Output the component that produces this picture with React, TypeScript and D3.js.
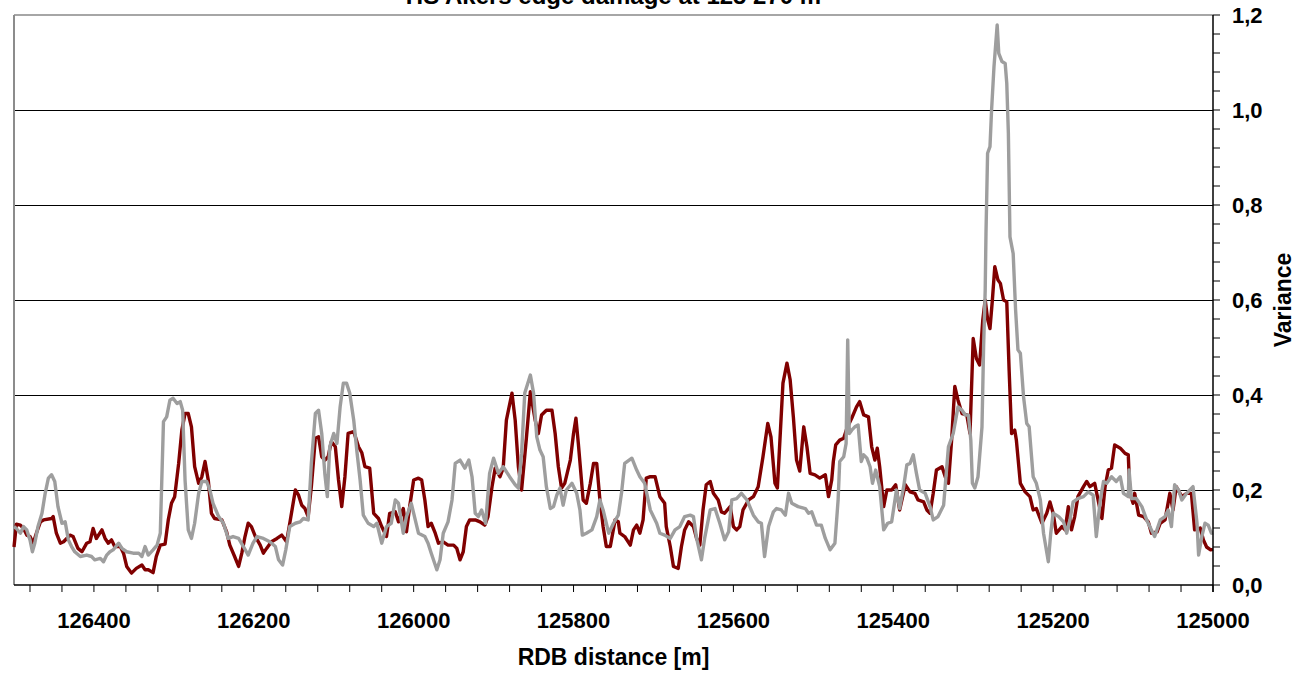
import * as d3 from "d3";

// [distance m, variance]
const redPoints: [number, number][] = [
  [126500, 0.08], [126497, 0.128], [126492, 0.126], [126488, 0.119], [126484, 0.105], [126480, 0.102],
  [126476, 0.088], [126472, 0.109], [126467, 0.133], [126463, 0.137], [126453, 0.14], [126451, 0.144],
  [126447, 0.109], [126442, 0.088], [126438, 0.091], [126434, 0.098], [126430, 0.105], [126426, 0.102],
  [126420, 0.077], [126415, 0.07], [126409, 0.088], [126405, 0.091], [126401, 0.119], [126397, 0.098],
  [126390, 0.116], [126386, 0.098], [126382, 0.088], [126378, 0.095], [126374, 0.081], [126367, 0.081],
  [126363, 0.067], [126359, 0.039], [126353, 0.025], [126347, 0.035], [126340, 0.042], [126336, 0.032],
  [126332, 0.032], [126326, 0.026], [126322, 0.06], [126317, 0.084], [126311, 0.086], [126307, 0.137],
  [126303, 0.172], [126299, 0.186], [126294, 0.256], [126290, 0.326], [126286, 0.361], [126282, 0.361],
  [126278, 0.333], [126274, 0.249], [126269, 0.214], [126265, 0.228], [126261, 0.26], [126257, 0.221],
  [126253, 0.151], [126249, 0.14], [126240, 0.137], [126234, 0.112], [126230, 0.084], [126224, 0.06],
  [126219, 0.039], [126215, 0.067], [126211, 0.102], [126207, 0.13], [126203, 0.123], [126198, 0.102],
  [126192, 0.084], [126188, 0.067], [126184, 0.077], [126178, 0.091], [126171, 0.098], [126165, 0.105],
  [126159, 0.091], [126155, 0.13], [126148, 0.2], [126144, 0.189], [126140, 0.168], [126136, 0.161],
  [126132, 0.144], [126128, 0.207], [126123, 0.309], [126119, 0.312], [126115, 0.27], [126111, 0.263],
  [126107, 0.27], [126103, 0.302], [126098, 0.291], [126094, 0.221], [126090, 0.165], [126086, 0.228],
  [126082, 0.319], [126075, 0.323], [126069, 0.291], [126065, 0.279], [126061, 0.249], [126055, 0.246],
  [126050, 0.151], [126044, 0.14], [126040, 0.123], [126034, 0.102], [126030, 0.151], [126023, 0.154],
  [126019, 0.133], [126013, 0.161], [126009, 0.112], [126005, 0.165], [126000, 0.221], [125994, 0.225],
  [125990, 0.221], [125986, 0.179], [125982, 0.123], [125978, 0.13], [125973, 0.109], [125969, 0.088],
  [125963, 0.091], [125957, 0.084], [125950, 0.084], [125946, 0.077], [125942, 0.053], [125938, 0.07],
  [125934, 0.123], [125930, 0.137], [125923, 0.137], [125917, 0.133], [125911, 0.126], [125907, 0.144],
  [125902, 0.207], [125898, 0.246], [125892, 0.228], [125888, 0.246], [125884, 0.347], [125877, 0.404],
  [125873, 0.347], [125869, 0.249], [125865, 0.2], [125859, 0.309], [125854, 0.407], [125848, 0.347],
  [125844, 0.319], [125840, 0.358], [125834, 0.368], [125827, 0.368], [125823, 0.319], [125819, 0.249],
  [125815, 0.204], [125811, 0.214], [125804, 0.263], [125800, 0.319], [125797, 0.351], [125794, 0.298],
  [125788, 0.179], [125784, 0.172], [125779, 0.214], [125775, 0.256], [125771, 0.256], [125767, 0.179],
  [125763, 0.123], [125759, 0.081], [125754, 0.081], [125748, 0.137], [125744, 0.133], [125742, 0.109],
  [125736, 0.102], [125729, 0.084], [125725, 0.116], [125721, 0.126], [125717, 0.109], [125713, 0.137],
  [125709, 0.225], [125704, 0.228], [125698, 0.228], [125692, 0.186], [125686, 0.172], [125684, 0.123],
  [125679, 0.081], [125675, 0.039], [125669, 0.035], [125665, 0.081], [125661, 0.116], [125656, 0.133],
  [125650, 0.123], [125646, 0.098], [125642, 0.084], [125638, 0.158], [125634, 0.211], [125629, 0.218],
  [125625, 0.193], [125619, 0.179], [125615, 0.154], [125611, 0.151], [125604, 0.165], [125600, 0.123],
  [125596, 0.116], [125592, 0.123], [125588, 0.158], [125581, 0.179], [125575, 0.186], [125569, 0.207],
  [125563, 0.27], [125557, 0.34], [125553, 0.312], [125548, 0.214], [125545, 0.204], [125542, 0.298],
  [125538, 0.425], [125533, 0.467], [125529, 0.432], [125525, 0.354], [125521, 0.263], [125517, 0.24],
  [125512, 0.333], [125508, 0.291], [125504, 0.235], [125498, 0.232], [125492, 0.225], [125485, 0.232],
  [125481, 0.186], [125477, 0.221], [125475, 0.26], [125472, 0.295], [125467, 0.305], [125462, 0.309],
  [125458, 0.33], [125452, 0.351], [125446, 0.375], [125442, 0.386], [125437, 0.358], [125431, 0.354],
  [125427, 0.291], [125423, 0.263], [125420, 0.288], [125417, 0.249], [125412, 0.165], [125408, 0.2],
  [125402, 0.2], [125397, 0.211], [125392, 0.158], [125385, 0.211], [125379, 0.196], [125373, 0.193],
  [125369, 0.179], [125362, 0.175], [125358, 0.158], [125354, 0.151], [125350, 0.193], [125346, 0.242],
  [125339, 0.249], [125335, 0.228], [125331, 0.214], [125327, 0.305], [125323, 0.418], [125319, 0.389],
  [125314, 0.361], [125308, 0.358], [125304, 0.319], [125300, 0.519], [125296, 0.477], [125292, 0.463],
  [125288, 0.558], [125285, 0.6], [125282, 0.56], [125279, 0.54], [125276, 0.6], [125273, 0.67],
  [125269, 0.642], [125266, 0.635], [125262, 0.6], [125258, 0.596], [125255, 0.45], [125252, 0.319],
  [125248, 0.326], [125246, 0.305], [125241, 0.214], [125235, 0.196], [125229, 0.186], [125225, 0.158],
  [125221, 0.161], [125214, 0.13], [125208, 0.151], [125204, 0.175], [125200, 0.151], [125196, 0.109],
  [125189, 0.123], [125185, 0.116], [125181, 0.165], [125177, 0.116], [125173, 0.144], [125169, 0.186],
  [125162, 0.207], [125158, 0.218], [125154, 0.207], [125148, 0.214], [125139, 0.14], [125135, 0.207],
  [125131, 0.242], [125127, 0.246], [125123, 0.295], [125116, 0.288], [125110, 0.277], [125106, 0.274],
  [125104, 0.193], [125100, 0.172], [125098, 0.193], [125093, 0.147], [125087, 0.144], [125081, 0.133],
  [125077, 0.109], [125070, 0.112], [125066, 0.13], [125060, 0.137], [125054, 0.193], [125050, 0.158],
  [125046, 0.207], [125039, 0.186], [125033, 0.193], [125027, 0.193], [125023, 0.116], [125016, 0.12],
  [125012, 0.095], [125008, 0.08], [125003, 0.074], [125000, 0.075],
];

const grayPoints: [number, number][] = [
  [126500, 0.123], [126497, 0.119], [126492, 0.109], [126488, 0.123], [126484, 0.116], [126480, 0.095],
  [126477, 0.07], [126474, 0.088], [126470, 0.123], [126465, 0.151], [126461, 0.193], [126457, 0.225],
  [126453, 0.232], [126449, 0.218], [126445, 0.165], [126440, 0.13], [126436, 0.133], [126432, 0.095],
  [126428, 0.081], [126424, 0.07], [126417, 0.06], [126409, 0.063], [126403, 0.06], [126399, 0.053],
  [126392, 0.056], [126388, 0.049], [126384, 0.063], [126380, 0.07], [126376, 0.074], [126369, 0.088],
  [126365, 0.077], [126359, 0.07], [126351, 0.067], [126344, 0.067], [126340, 0.06], [126336, 0.081],
  [126332, 0.063], [126326, 0.074], [126321, 0.084], [126317, 0.109], [126313, 0.344], [126309, 0.354],
  [126305, 0.389], [126301, 0.393], [126296, 0.382], [126292, 0.386], [126289, 0.368], [126286, 0.221],
  [126282, 0.116], [126278, 0.098], [126274, 0.13], [126269, 0.193], [126265, 0.218], [126259, 0.218],
  [126255, 0.2], [126251, 0.172], [126244, 0.144], [126238, 0.13], [126232, 0.098], [126226, 0.102],
  [126219, 0.098], [126213, 0.081], [126207, 0.063], [126201, 0.088], [126196, 0.102], [126188, 0.098],
  [126180, 0.091], [126173, 0.081], [126169, 0.053], [126164, 0.042], [126160, 0.074], [126155, 0.123],
  [126148, 0.13], [126142, 0.133], [126138, 0.14], [126132, 0.137], [126128, 0.256], [126123, 0.361],
  [126119, 0.368], [126115, 0.319], [126111, 0.232], [126108, 0.186], [126105, 0.291], [126100, 0.319],
  [126096, 0.298], [126092, 0.375], [126088, 0.425], [126084, 0.425], [126080, 0.404], [126075, 0.347],
  [126071, 0.281], [126067, 0.221], [126063, 0.147], [126057, 0.13], [126050, 0.123], [126046, 0.13],
  [126040, 0.088], [126034, 0.123], [126028, 0.13], [126023, 0.179], [126019, 0.172], [126013, 0.109],
  [126009, 0.144], [126003, 0.172], [125998, 0.137], [125994, 0.109], [125986, 0.102], [125982, 0.088],
  [125978, 0.067], [125971, 0.032], [125967, 0.053], [125963, 0.109], [125957, 0.133], [125952, 0.179],
  [125948, 0.256], [125942, 0.263], [125936, 0.246], [125931, 0.263], [125927, 0.228], [125923, 0.151],
  [125919, 0.144], [125915, 0.158], [125910, 0.13], [125905, 0.235], [125900, 0.267], [125894, 0.235],
  [125888, 0.249], [125880, 0.228], [125873, 0.211], [125869, 0.204], [125865, 0.277], [125861, 0.404],
  [125854, 0.442], [125850, 0.404], [125846, 0.312], [125842, 0.284], [125838, 0.27], [125834, 0.207],
  [125829, 0.161], [125825, 0.165], [125821, 0.189], [125817, 0.204], [125813, 0.168], [125809, 0.2],
  [125802, 0.214], [125796, 0.193], [125792, 0.158], [125789, 0.105], [125784, 0.109], [125777, 0.116],
  [125771, 0.144], [125767, 0.179], [125763, 0.158], [125756, 0.109], [125750, 0.13], [125744, 0.147],
  [125740, 0.193], [125736, 0.256], [125727, 0.267], [125721, 0.242], [125717, 0.228], [125711, 0.214],
  [125704, 0.158], [125696, 0.13], [125692, 0.109], [125686, 0.105], [125679, 0.098], [125673, 0.116],
  [125667, 0.123], [125661, 0.144], [125654, 0.147], [125650, 0.144], [125646, 0.098], [125640, 0.053],
  [125636, 0.098], [125629, 0.158], [125623, 0.161], [125617, 0.13], [125611, 0.095], [125606, 0.112],
  [125602, 0.179], [125596, 0.182], [125590, 0.193], [125583, 0.179], [125575, 0.147], [125569, 0.133],
  [125565, 0.13], [125561, 0.06], [125556, 0.123], [125550, 0.154], [125546, 0.161], [125540, 0.158],
  [125535, 0.147], [125531, 0.193], [125527, 0.172], [125519, 0.165], [125510, 0.161], [125506, 0.151],
  [125502, 0.154], [125496, 0.126], [125490, 0.126], [125485, 0.098], [125479, 0.074], [125473, 0.088],
  [125469, 0.179], [125467, 0.26], [125462, 0.27], [125459, 0.298], [125457, 0.516], [125455, 0.319],
  [125452, 0.326], [125448, 0.333], [125444, 0.337], [125440, 0.26], [125437, 0.274], [125433, 0.267],
  [125429, 0.249], [125426, 0.214], [125422, 0.242], [125417, 0.207], [125412, 0.116], [125407, 0.13],
  [125402, 0.133], [125396, 0.2], [125392, 0.161], [125387, 0.207], [125383, 0.253], [125379, 0.256],
  [125375, 0.274], [125371, 0.235], [125367, 0.2], [125360, 0.193], [125354, 0.165], [125350, 0.137],
  [125344, 0.144], [125337, 0.168], [125331, 0.291], [125325, 0.319], [125319, 0.375], [125314, 0.368],
  [125310, 0.358], [125306, 0.358], [125303, 0.305], [125301, 0.214], [125298, 0.204], [125294, 0.228],
  [125289, 0.333], [125287, 0.5], [125285, 0.62], [125284, 0.74], [125282, 0.909], [125279, 0.923],
  [125277, 1.0], [125274, 1.091], [125270, 1.179], [125268, 1.119], [125264, 1.102], [125260, 1.098],
  [125258, 1.056], [125256, 0.951], [125254, 0.733], [125250, 0.698], [125247, 0.58], [125244, 0.495],
  [125241, 0.488], [125237, 0.396], [125233, 0.34], [125230, 0.333], [125225, 0.228], [125221, 0.214],
  [125216, 0.179], [125212, 0.109], [125206, 0.049], [125203, 0.109], [125200, 0.151], [125193, 0.144],
  [125187, 0.133], [125183, 0.109], [125179, 0.137], [125175, 0.175], [125169, 0.182], [125162, 0.186],
  [125156, 0.196], [125150, 0.189], [125146, 0.102], [125141, 0.179], [125137, 0.218], [125133, 0.214],
  [125127, 0.228], [125121, 0.218], [125116, 0.228], [125112, 0.193], [125106, 0.186], [125105, 0.242],
  [125102, 0.182], [125096, 0.182], [125089, 0.165], [125083, 0.137], [125077, 0.116], [125073, 0.102],
  [125066, 0.137], [125060, 0.144], [125056, 0.158], [125052, 0.123], [125048, 0.211], [125043, 0.2],
  [125039, 0.179], [125033, 0.193], [125025, 0.207], [125020, 0.13], [125018, 0.063], [125014, 0.102],
  [125010, 0.13], [125006, 0.126], [125002, 0.109], [125000, 0.11],
];

const xLabelTicks = [126400, 126200, 126000, 125800, 125600, 125400, 125200, 125000];
const yLabelTicks = [0, 0.2, 0.4, 0.6, 0.8, 1.0, 1.2];
const gridValues = [0.2, 0.4, 0.6, 0.8, 1.0];

const title = "HS Akers edge damage at 125 270 m";
const xTitle = "RDB distance [m]";
const yTitle = "Variance";

const W = 1310;
const H = 673;
const left = 14;
const right = 1213;
const top = 15;
const bottom = 585;
const font = "'Liberation Sans', Arial, sans-serif";

export default function App() {
  const x = d3.scaleLinear().domain([126500, 125000]).range([left, right]);
  const y = d3.scaleLinear().domain([0, 1.2]).range([bottom, top]);

  const line = d3
    .line<[number, number]>()
    .x((d) => x(d[0]))
    .y((d) => y(d[1]));

  const xMinor = d3.range(125000, 126500, 40);
  const yMinor = d3.range(0, 1.2001, 0.04);
  const fmt = (v: number) => d3.format(".1f")(v).replace(".", ",");

  return (
    <svg
      width={W}
      height={H}
      style={{ position: "absolute", left: 0, top: 0, background: "#fff" }}
      fontFamily={font}
      fontWeight="bold"
    >
      {/* 网格线 */}
      {gridValues.map((v) => (
        <line
          key={v}
          x1={left}
          x2={right}
          y1={y(v)}
          y2={y(v)}
          stroke="#000"
          strokeWidth={1}
          shapeRendering="crispEdges"
        />
      ))}

      {/* 绘图区边框 */}
      <line x1={left} x2={right} y1={top} y2={top} stroke="#a6a6a6" strokeWidth={2} />
      <line x1={left} x2={left} y1={top} y2={bottom} stroke="#8c8c8c" strokeWidth={2} />

      {/* 数据线 */}
      <path d={line(redPoints) ?? ""} fill="none" stroke="#800000" strokeWidth={3.4} strokeLinejoin="round" />
      <path d={line(grayPoints) ?? ""} fill="none" stroke="#9e9e9e" strokeWidth={3.4} strokeLinejoin="round" />

      {/* 坐标轴 */}
      <line x1={right} x2={right} y1={top} y2={bottom + 7} stroke="#000" strokeWidth={1.5} />
      <line x1={left} x2={right} y1={bottom} y2={bottom} stroke="#000" strokeWidth={1.5} />
      {yMinor.map((v, i) => (
        <line key={i} x1={right} x2={right + 7} y1={y(v)} y2={y(v)} stroke="#000" strokeWidth={1} />
      ))}
      {xMinor.map((v) => (
        <line key={v} x1={x(v)} x2={x(v)} y1={bottom} y2={bottom + 7} stroke="#000" strokeWidth={1} />
      ))}

      {yLabelTicks.map((v) => (
        <text key={v} x={1232} y={y(v)} dy="0.36em" fontSize={22} fill="#000">
          {fmt(v)}
        </text>
      ))}
      {xLabelTicks.map((v) => (
        <text key={v} x={x(v)} y={628} textAnchor="middle" fontSize={22} fill="#000">
          {v}
        </text>
      ))}

      <text x={(left + right) / 2} y={665} textAnchor="middle" fontSize={23} fill="#000">
        {xTitle}
      </text>
      <text
        transform={`translate(1291, ${(top + bottom) / 2}) rotate(-90)`}
        textAnchor="middle"
        fontSize={23}
        fill="#000"
      >
        {yTitle}
      </text>
      <text x={(left + right) / 2} y={4} textAnchor="middle" fontSize={24} fill="#000">
        {title}
      </text>
    </svg>
  );
}
